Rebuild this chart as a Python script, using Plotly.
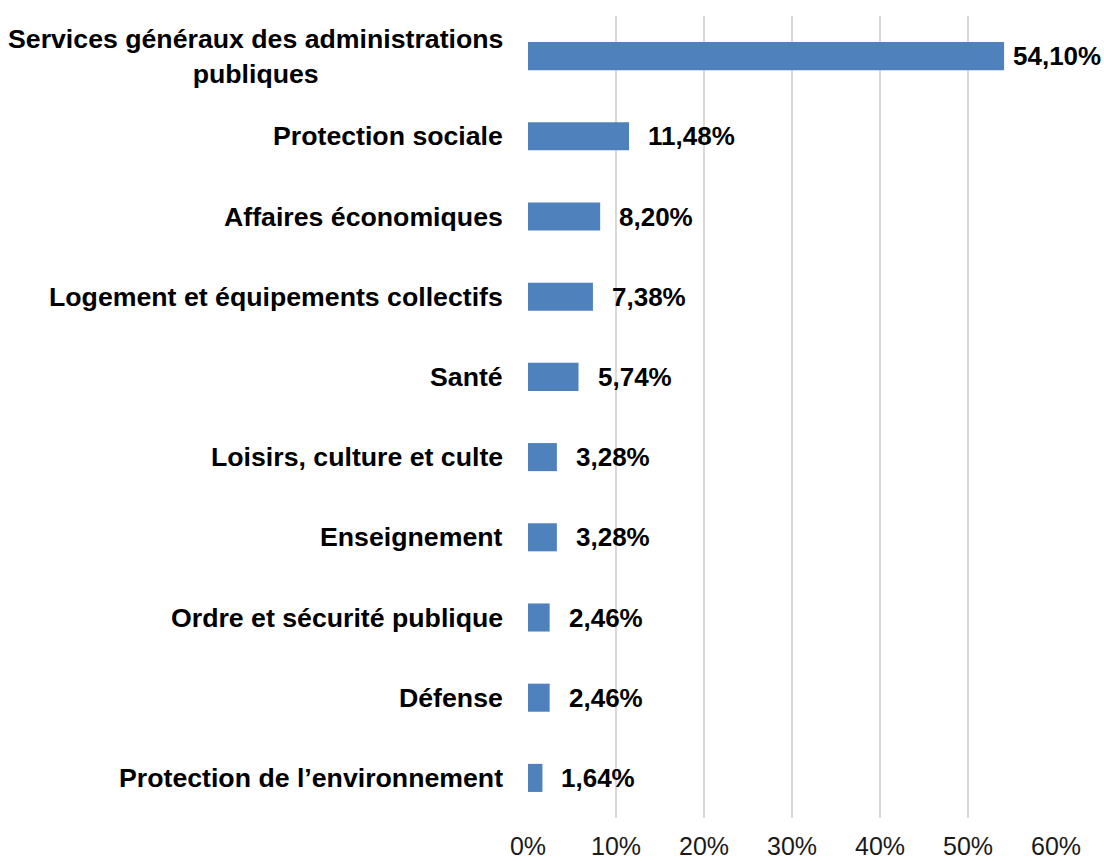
import plotly.graph_objects as go

# Budget share by function (COFOG), in percent
categories = [
    "Services généraux des administrations<br>publiques",
    "Protection sociale",
    "Affaires économiques",
    "Logement et équipements collectifs",
    "Santé",
    "Loisirs, culture et culte",
    "Enseignement",
    "Ordre et sécurité publique",
    "Défense",
    "Protection de l’environnement",
]
shares = [54.10, 11.48, 8.20, 7.38, 5.74, 3.28, 3.28, 2.46, 2.46, 1.64]
value_labels = ["54,10%", "11,48%", "8,20%", "7,38%", "5,74%",
                "3,28%", "3,28%", "2,46%", "2,46%", "1,64%"]
x_ticks = [0, 10, 20, 30, 40, 50, 60]
x_tick_labels = ["0%", "10%", "20%", "30%", "40%", "50%", "60%"]

FONT = "Liberation Sans, Arial, sans-serif"
BAR_COLOR = "#4F81BD"

fig = go.Figure(
    go.Bar(
        x=shares,
        y=categories,
        orientation="h",
        marker=dict(color=BAR_COLOR, line=dict(width=0)),
        width=0.35,
        hoverinfo="skip",
    )
)

annotations = []
# category names, centred block placed left of the axis
for cat in categories:
    annotations.append(dict(
        x=0, xref="paper", y=cat, yref="y",
        text=cat, showarrow=False,
        xanchor="right", yanchor="middle", align="center",
        xshift=-23,
        font=dict(family=FONT, size=26.7, color="#000000", weight="bold"),
    ))
# value labels at the end of each bar
for i, (cat, val, lab) in enumerate(zip(categories, shares, value_labels)):
    annotations.append(dict(
        x=val, xref="x", y=cat, yref="y",
        text=lab, showarrow=False,
        xanchor="left", yanchor="middle",
        xshift=7 if i == 0 else 17,
        font=dict(family=FONT, size=26, color="#000000", weight="bold"),
    ))

fig.update_layout(
    width=1104, height=861,
    margin=dict(l=528, r=48, t=16, b=43),
    paper_bgcolor="white", plot_bgcolor="white",
    showlegend=False,
    annotations=annotations,
    xaxis=dict(
        range=[0, 60],
        tickmode="array", tickvals=x_ticks, ticktext=x_tick_labels,
        showgrid=True, gridcolor="#D9D9D9", gridwidth=2,
        zeroline=False, showline=False, ticks="",
        ticklabelstandoff=11, automargin=False,
        tickfont=dict(family=FONT, size=25, color="#1a1a1a"),
        fixedrange=True,
    ),
    yaxis=dict(
        categoryorder="array", categoryarray=categories[::-1],
        showticklabels=False, showgrid=False, zeroline=False,
        showline=False, ticks="", fixedrange=True, automargin=False,
    ),
)

fig.write_html("out.html")
